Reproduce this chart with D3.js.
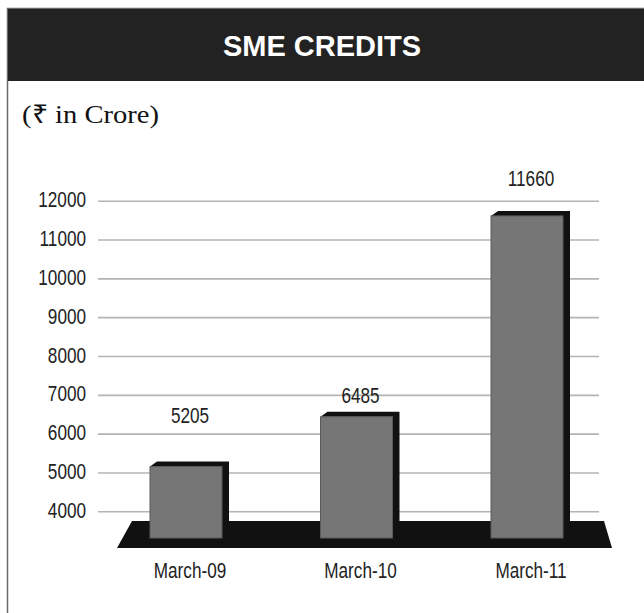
<!DOCTYPE html>
<html>
<head>
<meta charset="utf-8">
<script src="https://cdn.jsdelivr.net/npm/d3@7"></script>
<style>
  html, body { margin: 0; padding: 0; background: #fff; }
  svg { display: block; }
</style>
</head>
<body>
<svg id="chart" width="644" height="613"></svg>
<script>
// ---- data ----
const categories = ["March-09", "March-10", "March-11"];
const values = [5205, 6485, 11660];
const tickValues = [4000, 5000, 6000, 7000, 8000, 9000, 10000, 11000, 12000];
const title = "SME CREDITS";
const unitLabel = "(\u20B9 in Crore)";

// ---- layout ----
const labelGap = [39, 9, 25];
const sans = "'Liberation Sans', Arial, sans-serif";
const squeeze = 0.78; // emulate a narrow face

const svg = d3.select("#chart");

// frame
svg.append("rect").attr("x", 7.5).attr("y", 8.5).attr("width", 640).attr("height", 700)
  .attr("fill", "#fff").attr("stroke", "#6a6a6a").attr("stroke-width", 1.5);
svg.append("rect").attr("x", 8).attr("y", 9).attr("width", 640).attr("height", 72)
  .attr("fill", "#222");
svg.append("text").attr("x", 322).attr("y", 56)
  .attr("text-anchor", "middle").attr("fill", "#fff")
  .style("font-family", sans)
  .style("font-weight", "bold").style("font-size", "29px")
  .text(title);

svg.append("text").attr("x", 22).attr("y", 123)
  .attr("fill", "#111")
  .attr("textLength", 137).attr("lengthAdjust", "spacingAndGlyphs")
  .style("font-family", "'Liberation Serif', 'Times New Roman', serif")
  .style("font-size", "26px")
  .text(unitLabel);

// scales
const y = d3.scaleLinear().domain([4000, 12000]).range([511.3, 200.7]);
const x = d3.scalePoint().domain(categories).range([186, 527]);
const barW = 72, dx = 7, dy = 5;
const floorTop = 521, floorBot = 548, barBottom = 538;

// gridlines + tick labels
const axis = d3.axisLeft(y).tickValues(tickValues).tickSize(-501).tickPadding(12)
  .tickFormat(d3.format("d"));
const g = svg.append("g").attr("transform", "translate(98,0)").call(axis);
g.select(".domain").remove();
g.selectAll(".tick line").attr("stroke", "#b4b4b4").attr("stroke-width", 1.6);
g.selectAll(".tick text").attr("fill", "#222")
  .attr("dy", null).attr("x", 0).attr("y", 0)
  .attr("transform", `translate(-12,6) scale(${squeeze},1)`)
  .style("font-family", sans).style("font-size", "22px");

// floor
const fl = x(categories[0]) - 54, fr = x(categories[categories.length - 1]) + 77;
svg.append("polygon")
  .attr("points", [[fl, floorTop], [fr, floorTop], [fr + 8, floorBot], [fl - 15, floorBot]].join(" "))
  .attr("fill", "#111");

const data = categories.map((c, i) => ({ c, v: values[i], i }));

const bars = svg.append("g").selectAll("g").data(data).join("g");

// top + side
bars.append("polygon").attr("points", d => {
  const fx = x(d.c) - barW / 2, ft = y(d.v) + 2;
  return [[fx, ft], [fx + dx, ft - dy], [fx + barW + dx, ft - dy], [fx + barW + dx, floorTop],
          [fx + barW, barBottom], [fx + barW, ft]].join(" ");
}).attr("fill", "#111");

// front
bars.append("rect")
  .attr("x", d => x(d.c) - barW / 2)
  .attr("y", d => y(d.v) + 2)
  .attr("width", barW)
  .attr("height", d => barBottom - (y(d.v) + 2))
  .attr("fill", "#767676").attr("stroke", "#5a5a5a").attr("stroke-width", 1);

// value labels
bars.append("text")
  .attr("transform", d => `translate(${x(d.c) + 4},${y(d.v) + 2 - dy - labelGap[d.i]}) scale(${squeeze},1)`)
  .attr("text-anchor", "middle").attr("fill", "#222")
  .style("font-family", sans).style("font-size", "22px")
  .text(d => d.v);

// category labels
svg.append("g").selectAll("text").data(categories).join("text")
  .attr("transform", d => `translate(${x(d) + 4},578) scale(${squeeze},1)`)
  .attr("text-anchor", "middle").attr("fill", "#222")
  .style("font-family", sans).style("font-size", "22px")
  .text(d => d);
</script>
</body>
</html>
